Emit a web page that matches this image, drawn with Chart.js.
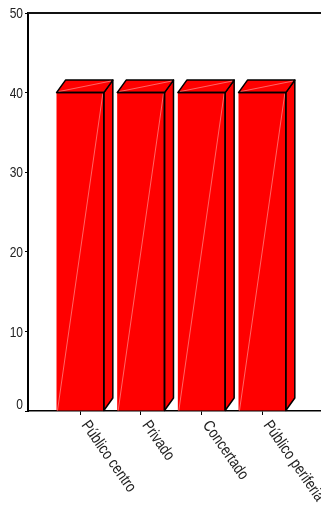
<!DOCTYPE html>
<html>
<head>
<meta charset="utf-8">
<script src="https://cdn.jsdelivr.net/npm/chart.js@4"></script>
<style>
  html, body { margin: 0; padding: 0; background: #fff; }
  #wrap { width: 321px; height: 507px; position: relative; }
</style>
</head>
<body>
<div id="wrap"><canvas id="chart"></canvas></div>
<script>
// Centros escolares y valores
const categories = ['Público centro', 'Privado', 'Concertado', 'Público periferia'];
const values = [40, 40, 40, 40];
const yTicks = [0, 10, 20, 30, 40, 50];

const FONT = "'Liberation Sans', Arial, sans-serif";
const TEXT_COLOR = '#222';
const RED = '#ff0000';
const EDGE = '#000000';
const DEPTH_X = 9;
const DEPTH_Y = -12.5;

// Texto estrecho (compresión horizontal)
function narrowText(ctx, text, x, y, angle, squeeze, align, baseline) {
  ctx.save();
  ctx.translate(x, y);
  ctx.rotate(angle);
  ctx.scale(squeeze, 1);
  ctx.textAlign = align;
  ctx.textBaseline = baseline;
  ctx.fillText(text, 0, 0);
  ctx.restore();
}

// Caras superior y lateral de cada barra (efecto 3D) y rótulos
const bar3d = {
  id: 'bar3d',
  afterDatasetsDraw(chart) {
    const ctx = chart.ctx;
    const meta = chart.getDatasetMeta(0);
    meta.data.forEach(el => {
      const p = el.getProps(['x', 'y', 'base', 'width'], true);
      const l = p.x - p.width / 2, r = p.x + p.width / 2;
      const t = p.y, b = p.base;
      ctx.save();
      ctx.lineJoin = 'round';
      // lateral
      ctx.beginPath();
      ctx.moveTo(r, t);
      ctx.lineTo(r + DEPTH_X, t + DEPTH_Y);
      ctx.lineTo(r + DEPTH_X, b + DEPTH_Y);
      ctx.lineTo(r, b);
      ctx.closePath();
      ctx.fillStyle = RED;
      ctx.fill();
      ctx.lineWidth = 1.5;
      ctx.strokeStyle = EDGE;
      ctx.stroke();
      // superior
      ctx.beginPath();
      ctx.moveTo(l, t);
      ctx.lineTo(l + DEPTH_X, t + DEPTH_Y);
      ctx.lineTo(r + DEPTH_X, t + DEPTH_Y);
      ctx.lineTo(r, t);
      ctx.closePath();
      ctx.fillStyle = RED;
      ctx.fill();
      ctx.stroke();
      // reflejos tenues
      ctx.strokeStyle = 'rgba(255,170,170,0.75)';
      ctx.lineWidth = 0.8;
      ctx.beginPath();
      ctx.moveTo(l + 1, b);
      ctx.lineTo(r - 1, t + 1);
      ctx.moveTo(l + 2, t - 1);
      ctx.lineTo(r + DEPTH_X - 2, t + DEPTH_Y + 1);
      ctx.stroke();
      // aristas frontales
      ctx.strokeStyle = EDGE;
      ctx.lineWidth = 1.5;
      ctx.beginPath();
      ctx.moveTo(l, t);
      ctx.lineTo(r, t);
      ctx.lineTo(r, b);
      ctx.stroke();
      ctx.restore();
    });
  },
  afterDraw(chart) {
    const ctx = chart.ctx;
    const area = chart.chartArea;
    const xs = chart.scales.x;
    const ys = chart.scales.y;
    ctx.save();
    // línea superior del marco
    ctx.strokeStyle = '#111';
    ctx.lineWidth = 2;
    ctx.beginPath();
    ctx.moveTo(area.left, area.top);
    ctx.lineTo(chart.width, area.top);
    ctx.stroke();
    ctx.fillStyle = TEXT_COLOR;
    // valores del eje Y
    ctx.font = '15px ' + FONT;
    yTicks.forEach(v => {
      const py = ys.getPixelForValue(v) - (v === 0 ? 7 : 0);
      narrowText(ctx, String(v), area.left - 5, py + 1, 0, 0.8, 'right', 'middle');
    });
    // etiquetas de categoría giradas
    ctx.font = '16px ' + FONT;
    categories.forEach((c, i) => {
      const px = xs.getPixelForValue(i + 1);
      narrowText(ctx, c, px + 11, area.bottom + 7, 55 * Math.PI / 180, 0.82, 'left', 'top');
    });
    ctx.restore();
  }
};

new Chart(document.getElementById('chart'), {
  type: 'bar',
  data: {
    datasets: [{
      data: categories.map((c, i) => ({ x: i + 1, y: values[i] })),
      backgroundColor: RED,
      borderColor: EDGE,
      borderWidth: 0,
      barPercentage: 0.78,
      categoryPercentage: 1
    }]
  },
  options: {
    responsive: true,
    maintainAspectRatio: false,
    animation: false,
    layout: { padding: { top: 13, right: 0, left: 0, bottom: 0 } },
    plugins: { legend: { display: false }, tooltip: { enabled: false } },
    scales: {
      x: {
        type: 'linear',
        offset: false,
        min: 0.14,
        max: 4.97,
        afterBuildTicks: s => { s.ticks = categories.map((c, i) => ({ value: i + 1 })); },
        afterFit: s => { s.height = 96; },
        ticks: { display: false },
        grid: { offset: false, drawOnChartArea: false, drawTicks: true, tickLength: 4, color: '#000', lineWidth: 1 },
        border: { color: '#000', width: 1.5 }
      },
      y: {
        min: 0,
        max: 50,
        afterBuildTicks: s => { s.ticks = yTicks.map(v => ({ value: v })); },
        afterFit: s => { s.width = 28; },
        ticks: { display: false },
        grid: { drawOnChartArea: false, drawTicks: true, tickLength: 3, color: '#000', lineWidth: 1 },
        border: { color: '#000', width: 2 }
      }
    }
  },
  plugins: [bar3d]
});
</script>
</body>
</html>
